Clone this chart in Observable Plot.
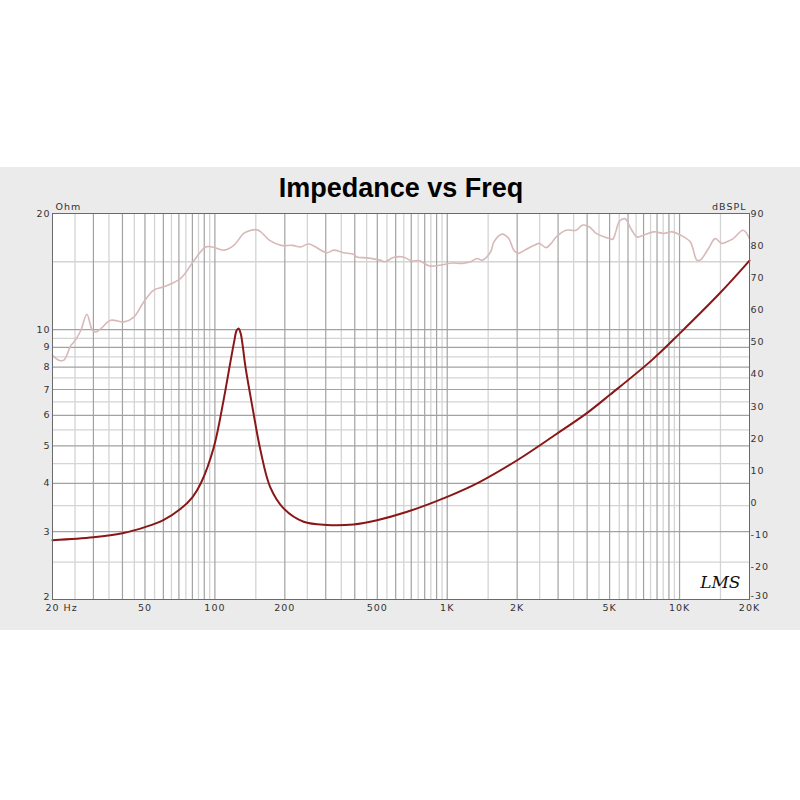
<!DOCTYPE html>
<html>
<head>
<meta charset="utf-8">
<script src="https://cdn.jsdelivr.net/npm/d3@7"></script>
<script src="https://cdn.jsdelivr.net/npm/@observablehq/plot@0.6"></script>
<style>
  html, body { margin: 0; padding: 0; background: #ffffff; }
  #wrap { position: relative; width: 800px; height: 800px; }
  #panel { position: absolute; left: 0; top: 167px; width: 800px; height: 463px; background: #ebebeb; }
  #chart { position: absolute; left: 0; top: 0; }
  g.lbl text { letter-spacing: 1px; }
</style>
</head>
<body>
<div id="wrap"><div id="panel"></div><div id="chart"></div></div>
<script>
// Impedance curve (Hz, Ohm)
const impFreq = [20, 30, 40, 50, 60, 71, 80, 87, 99, 109, 117, 121, 124, 126.5, 129, 132, 135.4, 145, 157, 173, 198, 241, 304, 395, 499, 667, 999, 1377, 2000, 2943, 3976, 4996, 7600, 10000, 15000, 20000];
const impOhm  = [2.85, 2.90, 2.97, 3.08, 3.21, 3.43, 3.68, 4.0, 4.97, 6.57, 8.34, 9.3, 9.95, 10.07, 9.8, 9.0, 8.01, 6.31, 4.88, 3.91, 3.44, 3.18, 3.12, 3.13, 3.21, 3.37, 3.69, 4.03, 4.59, 5.36, 6.07, 6.77, 8.34, 9.77, 12.48, 15.1];

// SPL curve (Hz, dBSPL)
const splFreq = [20, 21.3, 22.4, 24.0, 24.8, 26.5, 28.1, 29.7, 30.7, 32.3, 35.6, 40.6, 44.8, 49.4, 54.6, 60.3, 71.2, 81.5, 91.2, 97.7, 109.4, 120.6, 129, 133, 149.6, 157.6, 171.4, 192.8, 215.9, 233.6, 253.4, 303.8, 324.4, 357.8, 394.8, 408, 451, 513.6, 539, 586, 646, 701, 760, 838, 924, 1052, 1161, 1260, 1345, 1413, 1538, 1589, 1722, 1840, 1935, 2020, 2181, 2369, 2490, 2664, 2800, 2943, 3248, 3585, 3829, 4096, 4380, 4996, 5164, 5300, 5514, 5812, 5914, 6230, 6562, 7026, 7750, 8550, 9290, 10070, 11110, 11870, 12270, 13320, 14230, 15200, 15960, 17030, 18780, 20000];
const splDb   = [45.9, 44.4, 44.4, 49.0, 50.1, 53.7, 58.7, 53.7, 53.2, 54.2, 56.8, 56.3, 57.8, 62.5, 66.2, 67.2, 69.8, 75.5, 79.6, 79.6, 78.6, 80.1, 82.7, 83.8, 85.0, 84.3, 81.7, 80.1, 80.1, 79.6, 80.5, 77.8, 78.6, 77.8, 77.3, 76.5, 76.2, 75.5, 75.0, 76.3, 76.5, 75.3, 75.3, 73.7, 73.9, 74.6, 74.5, 75.0, 76.0, 75.5, 78.1, 81.2, 83.6, 82.2, 78.6, 77.6, 78.8, 80.1, 80.7, 79.4, 80.7, 82.7, 84.8, 84.8, 86.4, 85.8, 83.8, 82.2, 82.0, 84.0, 87.6, 88.4, 87.9, 84.8, 82.7, 83.3, 84.3, 83.8, 84.3, 83.3, 81.2, 75.5, 75.5, 79.1, 82.2, 80.7, 81.2, 82.2, 84.8, 82.2];

// Axes / grid
const xTickVals = [50, 100, 200, 500, 1000, 2000, 5000, 10000, 20000];
const xTickText = ["50", "100", "200", "500", "1K", "2K", "5K", "10K", "20K"];
const ohmTicks = [20, 10, 9, 8, 7, 6, 5, 4, 3];
const ohmBottom = [2];
const dbTicks = [90, 80, 70, 60, 50, 40, 30, 20, 10, 0, -10, -20];
const dbBottom = [-30];
const majorX = [30, 40, 50, 60, 70, 80, 90, 100, 200, 300, 400, 500, 600, 700, 800, 900, 1000, 2000, 3000, 4000, 5000, 6000, 7000, 8000, 9000, 10000];
const minorX = [25, 35, 45, 55, 65, 75, 85, 95, 150, 250, 350, 450, 550, 650, 750, 850, 950, 1500, 2500, 3500, 4500, 5500, 6500, 7500, 8500, 9500, 15000];
const majorY = [3, 4, 5, 6, 7, 8, 9, 10];
const minorY = [2.5, 3.5, 4.5, 5.5, 6.5, 7.5, 8.5, 9.5, 15];

const imp = impFreq.map((f, i) => ({f, v: impOhm[i]}));
const spl = splFreq.map((f, i) => ({f, v: splDb[i]}));
const toOhm = d => 20 * Math.pow(10, -(90 - d) / 120);

const lbl = {fontSize: 9.5, fill: "#333", className: "lbl", lineAnchor: "middle"};

const plot = Plot.plot({
  width: 800, height: 800,
  marginLeft: 52, marginRight: 51, marginTop: 213, marginBottom: 201,
  style: {background: "transparent", fontFamily: "DejaVu Sans", fontSize: "9.5px", color: "#333"},
  x: {type: "log", domain: [20, 20000], axis: null},
  y: {type: "log", domain: [2, 20], axis: null},
  marks: [
    Plot.frame({fill: "white", stroke: null}),
    Plot.ruleX(minorX, {stroke: "#d4d4d4", strokeWidth: 1.3}),
    Plot.ruleY(minorY, {stroke: "#d4d4d4", strokeWidth: 1.3}),
    Plot.ruleX(majorX, {stroke: "#a2a2a2", strokeWidth: 1.2}),
    Plot.ruleY(majorY, {stroke: "#a2a2a2", strokeWidth: 1.2}),
    Plot.line(spl, {x: "f", y: d => toOhm(d.v), stroke: "#d8b8b8", strokeWidth: 1.6, curve: "catmull-rom"}),
    Plot.line(imp, {x: "f", y: "v", stroke: "#8a1717", strokeWidth: 2, curve: "catmull-rom"}),
    Plot.frame({stroke: "#6a6a6a"}),
    // x tick labels
    Plot.text(xTickVals, {...lbl, x: d => d, text: d => xTickText[xTickVals.indexOf(d)], frameAnchor: "bottom", dy: 8}),
    Plot.text(["20 Hz"], {...lbl, x: [20], text: d => d, frameAnchor: "bottom", textAnchor: "start", dx: -7, dy: 8}),
    // left (Ohm) labels
    Plot.text(ohmTicks, {...lbl, y: d => d, text: d => String(d), frameAnchor: "left", textAnchor: "end", dx: -2}),
    Plot.text(ohmBottom, {...lbl, y: d => d, text: d => String(d), frameAnchor: "left", textAnchor: "end", dx: -2, dy: -3}),
    // right (dBSPL) labels
    Plot.text(dbTicks, {...lbl, y: d => toOhm(d), text: d => String(d), frameAnchor: "right", textAnchor: "start", dx: 1}),
    Plot.text(dbBottom, {...lbl, y: d => toOhm(d), text: d => String(d), frameAnchor: "right", textAnchor: "start", dx: 1, dy: -4}),
    Plot.text(["Impedance vs Freq"], {frameAnchor: "top", dy: -25, lineAnchor: "middle", fontSize: 27, fontWeight: "bold", fontFamily: "Liberation Sans", fill: "#000"}),
    Plot.text(["Ohm"], {...lbl, frameAnchor: "top-left", dx: 3, dy: -7, textAnchor: "start"}),
    Plot.text(["dBSPL"], {...lbl, frameAnchor: "top-right", dx: -3, dy: -7, textAnchor: "end"}),
    Plot.text(["LMS"], {frameAnchor: "bottom-right", dx: -9, dy: -17, lineAnchor: "middle", textAnchor: "end", fontSize: 17, fontStyle: "italic", fontFamily: "DejaVu Serif", fill: "#111"})
  ]
});
document.getElementById("chart").appendChild(plot);
</script>
</body>
</html>
